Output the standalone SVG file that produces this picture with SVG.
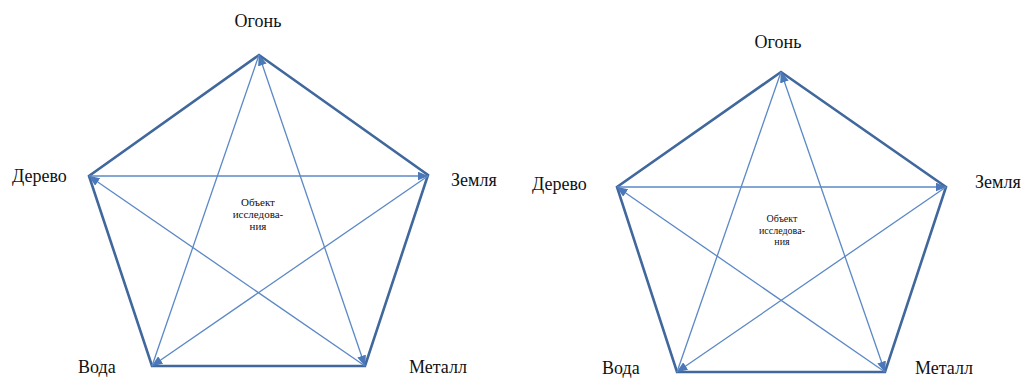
<svg xmlns="http://www.w3.org/2000/svg" width="1026" height="378" viewBox="0 0 1026 378">
<style>
.lbl{font-family:"Liberation Serif","Times New Roman",serif;font-size:18px;fill:#111}
.ctr{font-family:"Liberation Serif","Times New Roman",serif;fill:#111;text-anchor:middle}
.edge{stroke:#40689c;stroke-width:2.6;fill:none;stroke-linejoin:miter}
.star{stroke:#5b88c6;stroke-width:1.3;fill:none}
</style>
<defs>
<marker id="ah" markerUnits="userSpaceOnUse" markerWidth="11" markerHeight="9" refX="10.5" refY="4.5" orient="auto-start-reverse">
<path d="M0,0 L11,4.5 L0,9 z" fill="#4a78b8"/>
</marker>
</defs>
<rect width="1026" height="378" fill="#fff"/>
<g id="connectors">
<polygon class="edge" points="259,55 428,175 365,366 152,366 89,176"/>
<line class="star" x1="89" y1="176" x2="428" y2="176" marker-end="url(#ah)"/>
<line class="star" x1="428" y1="176" x2="152" y2="366" marker-end="url(#ah)"/>
<line class="star" x1="365" y1="366" x2="89" y2="176" marker-end="url(#ah)"/>
<line class="star" x1="259" y1="55" x2="365" y2="366" marker-start="url(#ah)" marker-end="url(#ah)"/>
<line class="star" x1="152" y1="366" x2="259" y2="55"/>
<polygon class="edge" points="781,72 946,187 885,372 677,372 617,187"/>
<line class="star" x1="617" y1="187" x2="946" y2="187" marker-end="url(#ah)"/>
<line class="star" x1="946" y1="187" x2="677" y2="372" marker-end="url(#ah)"/>
<line class="star" x1="885" y1="372" x2="617" y2="187" marker-end="url(#ah)"/>
<line class="star" x1="781" y1="72" x2="885" y2="372" marker-start="url(#ah)" marker-end="url(#ah)"/>
<line class="star" x1="677" y1="372" x2="781" y2="72"/>
</g>
<g id="left-fire"><text class="lbl" x="258" y="27" text-anchor="middle">Огонь</text></g>
<g id="left-wood"><text class="lbl" x="12" y="182">Дерево</text></g>
<g id="left-earth"><text class="lbl" x="451" y="186">Земля</text></g>
<g id="left-water"><text class="lbl" x="78" y="373">Вода</text></g>
<g id="left-metal"><text class="lbl" x="409" y="373">Металл</text></g>
<g id="left-center"><text class="ctr" font-size="11" x="258" y="206"><tspan x="258">Объект</tspan><tspan x="258" dy="12">исследова-</tspan><tspan x="258" dy="12">ния</tspan></text></g>
<g id="right-fire"><text class="lbl" x="778" y="48" text-anchor="middle">Огонь</text></g>
<g id="right-wood"><text class="lbl" x="532" y="190">Дерево</text></g>
<g id="right-earth"><text class="lbl" x="975" y="188">Земля</text></g>
<g id="right-water"><text class="lbl" x="602" y="374">Вода</text></g>
<g id="right-metal"><text class="lbl" x="915" y="374">Металл</text></g>
<g id="right-center"><text class="ctr" font-size="10" x="782" y="222"><tspan x="782">Объект</tspan><tspan x="782" dy="11.5">исследова-</tspan><tspan x="782" dy="11.5">ния</tspan></text></g>
</svg>
